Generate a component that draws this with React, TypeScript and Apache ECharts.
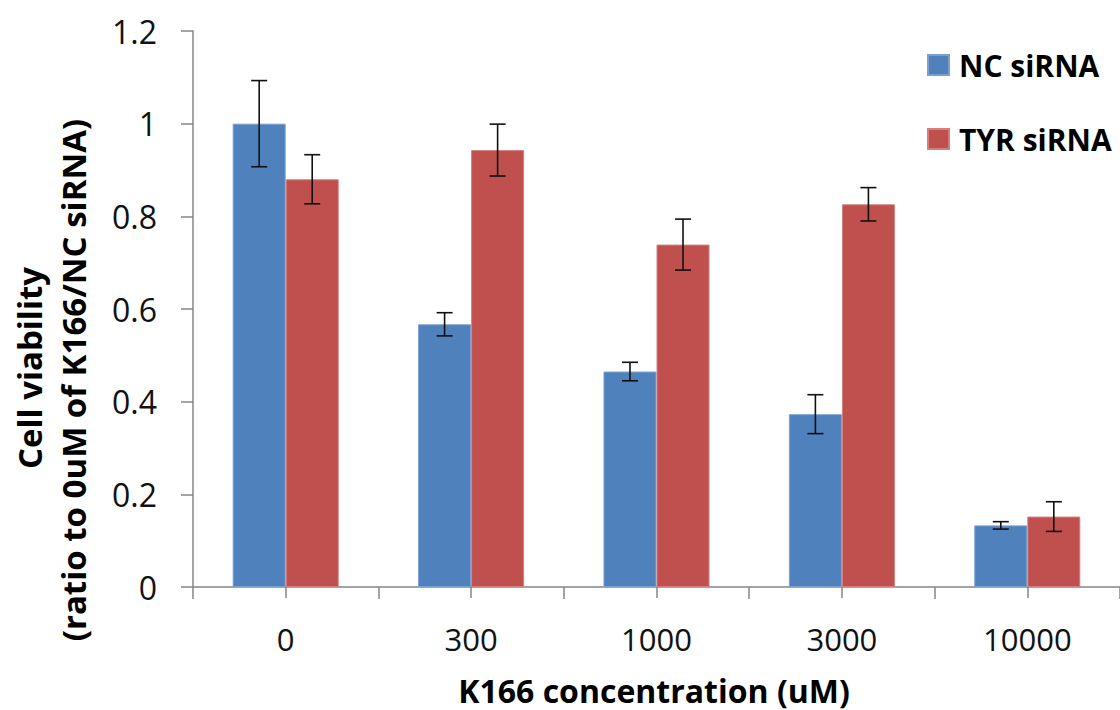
import React, { useEffect, useRef } from "react";
import * as echarts from "echarts";

const categories = ["0", "300", "1000", "3000", "10000"];
const ncValues = [1.0, 0.567, 0.465, 0.373, 0.133];
const tyrValues = [0.88, 0.943, 0.739, 0.826, 0.152];
const ncErrors = [0.093, 0.025, 0.02, 0.042, 0.008];
const tyrErrors = [0.053, 0.056, 0.055, 0.036, 0.032];
const seriesNames = ["NC siRNA", "TYR siRNA"];
const yTitleLines = ["Cell viability", "(ratio to 0uM of K166/NC siRNA)"];
const xTitle = "K166 concentration (uM)";

const BLUE = "#4F81BD";
const RED = "#C0504D";
const AXIS = "#868686";
const GAP = 0.428;
const FONT = "'Open Sans', 'Noto Sans', sans-serif";

function errRender(sign: number) {
  return (params: any, api: any) => {
    const idx = api.value(0);
    const v = api.value(1);
    const e = api.value(2);
    const band = api.size([1, 0])[0];
    const barW = (band * (1 - GAP)) / 2;
    const base = api.coord([idx, v]);
    const cx = base[0] + (sign * barW) / 2;
    const top = api.coord([idx, v + e])[1];
    const bot = api.coord([idx, v - e])[1];
    const cap = 8;
    const style = { stroke: "#111", lineWidth: 1.6 };
    return {
      type: "group",
      children: [
        { type: "line", shape: { x1: cx, y1: top, x2: cx, y2: bot }, style },
        { type: "line", shape: { x1: cx - cap, y1: top, x2: cx + cap, y2: top }, style },
        { type: "line", shape: { x1: cx - cap, y1: bot, x2: cx + cap, y2: bot }, style },
      ],
    };
  };
}

export default function App() {
  const ref = useRef<HTMLDivElement>(null);
  useEffect(() => {
    if (!ref.current) return;
    const chart = echarts.init(ref.current, null, { renderer: "svg" });
    const option: any = {
      animation: false,
      backgroundColor: "#fff",
      textStyle: { fontFamily: FONT },
      grid: { left: 193, right: 0, top: 31, bottom: 123, containLabel: false },
      legend: {
        orient: "vertical",
        left: 922,
        top: 45,
        itemWidth: 21,
        itemHeight: 20,
        itemGap: 44,
        icon: "rect",
        data: seriesNames,
        textStyle: {
          fontFamily: FONT,
          fontWeight: "bold",
          fontSize: 30,
          color: "#000",
          lineHeight: 20,
          padding: [0, 0, 0, 5],
        },
      },
      xAxis: [
        {
          type: "category",
          data: categories,
          axisLine: { lineStyle: { color: AXIS, width: 1.5 } },
          axisTick: { show: true, alignWithLabel: false, length: 12, lineStyle: { color: AXIS, width: 1.5 } },
          axisLabel: { color: "#111", fontSize: 31, fontFamily: FONT, margin: 36 },
        },
        {
          type: "category",
          data: categories,
          position: "bottom",
          axisLine: { show: false },
          axisTick: { show: true, alignWithLabel: true, length: 11, lineStyle: { color: AXIS, width: 1.5 } },
          axisLabel: { show: false },
        },
      ],
      yAxis: {
        type: "value",
        min: 0,
        max: 1.2,
        interval: 0.2,
        splitLine: { show: false },
        axisLine: { show: true, lineStyle: { color: AXIS, width: 1.5 } },
        axisTick: { show: true, length: 12, lineStyle: { color: AXIS, width: 1.5 } },
        axisLabel: { color: "#111", fontSize: 32, fontFamily: FONT, margin: 36 },
      },
      series: [
        {
          name: seriesNames[0],
          type: "bar",
          data: ncValues,
          barGap: "0%",
          barCategoryGap: GAP * 100 + "%",
          itemStyle: { color: BLUE, borderColor: "#7BA0CF", borderWidth: 1 },
        },
        {
          name: seriesNames[1],
          type: "bar",
          data: tyrValues,
          barGap: "0%",
          barCategoryGap: GAP * 100 + "%",
          itemStyle: { color: RED, borderColor: "#D47F7D", borderWidth: 1 },
        },
        {
          type: "custom",
          renderItem: errRender(-1),
          data: ncValues.map((v, i) => [i, v, ncErrors[i]]),
          encode: { x: 0, y: 1 },
          z: 10,
        },
        {
          type: "custom",
          renderItem: errRender(1),
          data: tyrValues.map((v, i) => [i, v, tyrErrors[i]]),
          encode: { x: 0, y: 1 },
          z: 10,
        },
      ],
      graphic: [
        {
          type: "text",
          x: 29,
          y: 368,
          rotation: Math.PI / 2,
          style: {
            text: yTitleLines[0],
            fontFamily: FONT,
            fontWeight: "bold",
            fontSize: 33,
            fill: "#000",
            align: "center",
            verticalAlign: "middle",
          },
        },
        {
          type: "text",
          x: 73,
          y: 380,
          rotation: Math.PI / 2,
          style: {
            text: yTitleLines[1],
            fontFamily: FONT,
            fontWeight: "bold",
            fontSize: 33,
            fill: "#000",
            align: "center",
            verticalAlign: "middle",
          },
        },
        {
          type: "text",
          x: 654,
          y: 690,
          style: {
            text: xTitle,
            fontFamily: FONT,
            fontWeight: "bold",
            fontSize: 32,
            fill: "#000",
            align: "center",
            verticalAlign: "middle",
          },
        },
      ],
    };
    chart.setOption(option);
    return () => chart.dispose();
  }, []);
  return (
    <div
      ref={ref}
      style={{ position: "fixed", left: 0, top: 0, width: 1120, height: 710, background: "#fff" }}
    />
  );
}
